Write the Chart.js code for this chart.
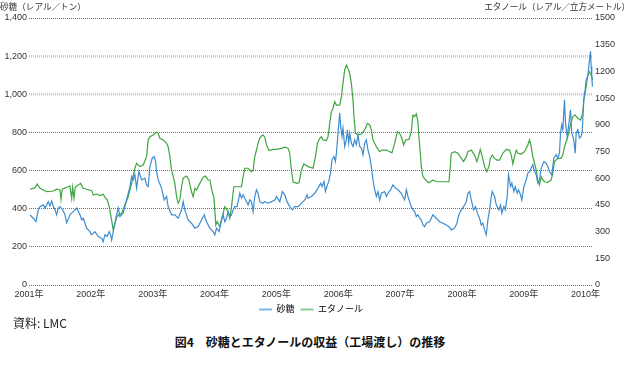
<!DOCTYPE html>
<html>
<head>
<meta charset="utf-8">
<script src="https://cdn.jsdelivr.net/npm/chart.js@4"></script>
<style>
  body { margin: 0; background: #fff; }
  #wrap { position: relative; width: 633px; height: 370px; background: #fff; font-family: "Noto Sans CJK JP", sans-serif; }
  #chart { position: absolute; left: 0; top: 0; }
  .txt { position: absolute; white-space: nowrap; color: #333; }
  #titleL { left: 0; top: 0; font-size: 8.6px; }
  #titleR { right: 3px; top: 0; font-size: 8.6px; }
  #source { left: 13px; top: 314px; font-size: 12px; color: #222; }
  #caption { left: 0; width: 620px; top: 333px; font-size: 12px; font-weight: bold; text-align: center; color: #111; }
</style>
</head>
<body>
<div id="wrap">
  <canvas id="chart" width="633" height="324"></canvas>
  <div class="txt" id="titleL">砂糖（レアル／トン）</div>
  <div class="txt" id="titleR">エタノール（レアル／立方メートル）</div>
  <div class="txt" id="source">資料: LMC</div>
  <div class="txt" id="caption">図4　砂糖とエタノールの収益（工場渡し）の推移</div>
</div>
<script>
// 砂糖 (レアル/トン), 左軸
const sugarYears = [
  2001.016, 2001.069, 2001.113, 2001.150, 2001.178, 2001.231, 2001.258, 2001.312, 2001.339, 2001.367,
  2001.393, 2001.420, 2001.447, 2001.473, 2001.501, 2001.544, 2001.582, 2001.609, 2001.662, 2001.716,
  2001.771, 2001.824, 2001.851, 2001.877, 2001.905, 2001.932, 2001.985, 2002.013, 2002.066, 2002.120,
  2002.174, 2002.200, 2002.228, 2002.265, 2002.297, 2002.320, 2002.336, 2002.362, 2002.389, 2002.417,
  2002.443, 2002.470, 2002.523, 2002.578, 2002.632, 2002.659, 2002.685, 2002.712, 2002.740, 2002.777,
  2002.821, 2002.874, 2002.901, 2002.927, 2002.955, 2002.992, 2003.024, 2003.047, 2003.063, 2003.089,
  2003.144, 2003.186, 2003.225, 2003.250, 2003.305, 2003.359, 2003.412, 2003.467, 2003.493, 2003.520,
  2003.573, 2003.628, 2003.682, 2003.735, 2003.790, 2003.832, 2003.871, 2003.924, 2003.977, 2004.005,
  2004.032, 2004.074, 2004.113, 2004.139, 2004.166, 2004.194, 2004.220, 2004.247, 2004.275, 2004.300,
  2004.328, 2004.365, 2004.409, 2004.436, 2004.462, 2004.489, 2004.517, 2004.543, 2004.570, 2004.598,
  2004.624, 2004.651, 2004.678, 2004.704, 2004.732, 2004.775, 2004.813, 2004.866, 2004.921, 2004.974,
  2005.002, 2005.055, 2005.098, 2005.136, 2005.173, 2005.216, 2005.260, 2005.297, 2005.351, 2005.406,
  2005.459, 2005.496, 2005.512, 2005.567, 2005.620, 2005.674, 2005.717, 2005.738, 2005.771, 2005.793,
  2005.826, 2005.847, 2005.879, 2005.900, 2005.932, 2005.955, 2005.971, 2005.997, 2006.024, 2006.040,
  2006.061, 2006.077, 2006.105, 2006.132, 2006.148, 2006.170, 2006.186, 2006.213, 2006.239, 2006.267,
  2006.294, 2006.320, 2006.347, 2006.375, 2006.401, 2006.428, 2006.455, 2006.481, 2006.509, 2006.536,
  2006.562, 2006.590, 2006.617, 2006.643, 2006.670, 2006.698, 2006.751, 2006.779, 2006.804, 2006.848,
  2006.885, 2006.924, 2006.966, 2007.021, 2007.074, 2007.102, 2007.128, 2007.155, 2007.182, 2007.208,
  2007.236, 2007.263, 2007.289, 2007.317, 2007.344, 2007.370, 2007.397, 2007.425, 2007.478, 2007.531,
  2007.586, 2007.640, 2007.693, 2007.748, 2007.790, 2007.829, 2007.882, 2007.919, 2007.951, 2007.990,
  2008.044, 2008.071, 2008.097, 2008.124, 2008.152, 2008.189, 2008.221, 2008.259, 2008.286, 2008.313,
  2008.339, 2008.367, 2008.394, 2008.420, 2008.447, 2008.475, 2008.491, 2008.528, 2008.556, 2008.598,
  2008.625, 2008.646, 2008.679, 2008.701, 2008.733, 2008.754, 2008.787, 2008.808, 2008.840, 2008.862,
  2008.895, 2008.916, 2008.948, 2008.969, 2009.002, 2009.040, 2009.066, 2009.094, 2009.121, 2009.147,
  2009.174, 2009.202, 2009.228, 2009.255, 2009.283, 2009.325, 2009.364, 2009.389, 2009.417, 2009.454,
  2009.486, 2009.525, 2009.551, 2009.578, 2009.594, 2009.615, 2009.632, 2009.659, 2009.675, 2009.702,
  2009.724, 2009.756, 2009.777, 2009.809, 2009.832, 2009.848, 2009.874, 2009.901, 2009.929, 2009.945,
  2009.971, 2009.993, 2010.010, 2010.036, 2010.063, 2010.079, 2010.090, 2010.100, 2010.111
];
const sugarPrices = [
  368, 350, 332, 394, 411, 420, 403, 437, 415, 441,
  411, 394, 368, 403, 411, 394, 368, 327, 368, 385,
  403, 368, 341, 350, 324, 298, 280, 263, 280, 254,
  245, 227, 263, 254, 280, 263, 236, 280, 324, 368,
  403, 359, 376, 446, 516, 569, 551, 578, 508, 595,
  551, 560, 525, 516, 621, 665, 674, 647, 595, 551,
  508, 446, 464, 411, 368, 368, 350, 394, 437, 394,
  341, 324, 298, 306, 341, 368, 332, 298, 280, 263,
  298, 280, 341, 368, 332, 350, 385, 359, 368, 394,
  411, 411, 481, 455, 473, 455, 437, 420, 446, 437,
  385, 464, 499, 481, 437, 429, 437, 429, 437, 446,
  464, 437, 490, 473, 437, 411, 394, 411, 411, 429,
  446, 473, 455, 464, 481, 508, 534, 516, 542, 490,
  525, 542, 595, 656, 674, 647, 691, 796, 901, 831,
  779, 823, 726, 761, 814, 744, 796, 744, 726, 761,
  735, 788, 726, 718, 683, 744, 761, 709, 674, 621,
  551, 499, 464, 490, 446, 481, 490, 464, 481, 499,
  525, 508, 499, 481, 446, 499, 464, 437, 411, 394,
  385, 359, 368, 350, 341, 315, 306, 324, 332, 368,
  350, 332, 324, 315, 306, 289, 298, 324, 368, 394,
  420, 437, 481, 490, 446, 394, 411, 368, 350, 315,
  324, 289, 263, 341, 394, 464, 490, 464, 420, 394,
  420, 376, 411, 394, 464, 578, 516, 534, 490, 516,
  481, 499, 473, 446, 516, 551, 586, 595, 613, 630,
  595, 578, 534, 551, 613, 647, 639, 621, 595, 578,
  665, 683, 665, 691, 796, 840, 814, 971, 849, 779,
  831, 919, 796, 761, 691, 796, 814, 770, 779, 805,
  971, 1024, 1076, 1094, 1181, 1225, 1146, 1094, 1040
];

// エタノール (レアル/立方メートル), 右軸
const ethanolYears = [
  2001.016, 2001.097, 2001.134, 2001.178, 2001.286, 2001.393, 2001.447, 2001.501, 2001.517, 2001.538,
  2001.609, 2001.662, 2001.690, 2001.706, 2001.727, 2001.748, 2001.796, 2001.835, 2001.877, 2001.932,
  2002.013, 2002.039, 2002.094, 2002.147, 2002.200, 2002.228, 2002.265, 2002.297, 2002.336, 2002.362,
  2002.389, 2002.417, 2002.443, 2002.498, 2002.551, 2002.604, 2002.659, 2002.712, 2002.740, 2002.793,
  2002.847, 2002.901, 2002.927, 2002.955, 2003.008, 2003.036, 2003.063, 2003.089, 2003.116, 2003.170,
  2003.225, 2003.250, 2003.278, 2003.305, 2003.359, 2003.386, 2003.412, 2003.439, 2003.467, 2003.493,
  2003.548, 2003.585, 2003.628, 2003.654, 2003.682, 2003.709, 2003.762, 2003.816, 2003.855, 2003.897,
  2003.924, 2003.968, 2003.989, 2004.021, 2004.042, 2004.086, 2004.139, 2004.166, 2004.220, 2004.247,
  2004.275, 2004.312, 2004.355, 2004.436, 2004.462, 2004.489, 2004.543, 2004.598, 2004.624, 2004.651,
  2004.678, 2004.704, 2004.732, 2004.759, 2004.785, 2004.813, 2004.840, 2004.882, 2004.947, 2005.002,
  2005.082, 2005.136, 2005.189, 2005.216, 2005.244, 2005.270, 2005.325, 2005.367, 2005.406, 2005.443,
  2005.512, 2005.593, 2005.632, 2005.664, 2005.701, 2005.729, 2005.754, 2005.809, 2005.835, 2005.863,
  2005.890, 2005.916, 2005.943, 2005.971, 2006.024, 2006.052, 2006.077, 2006.105, 2006.132, 2006.158,
  2006.186, 2006.213, 2006.239, 2006.255, 2006.278, 2006.320, 2006.375, 2006.428, 2006.472, 2006.509,
  2006.536, 2006.562, 2006.617, 2006.670, 2006.708, 2006.779, 2006.832, 2006.869, 2006.913, 2006.956,
  2006.993, 2007.031, 2007.058, 2007.090, 2007.144, 2007.182, 2007.208, 2007.236, 2007.263, 2007.289,
  2007.305, 2007.328, 2007.344, 2007.370, 2007.425, 2007.467, 2007.531, 2007.586, 2007.667, 2007.748,
  2007.790, 2007.812, 2007.829, 2007.882, 2007.935, 2007.990, 2008.027, 2008.071, 2008.097, 2008.152,
  2008.205, 2008.242, 2008.275, 2008.297, 2008.330, 2008.367, 2008.404, 2008.436, 2008.459, 2008.491,
  2008.528, 2008.566, 2008.609, 2008.662, 2008.717, 2008.771, 2008.798, 2008.824, 2008.851, 2008.879,
  2008.905, 2008.960, 2009.013, 2009.066, 2009.094, 2009.121, 2009.147, 2009.174, 2009.202, 2009.228,
  2009.255, 2009.283, 2009.309, 2009.336, 2009.389, 2009.444, 2009.470, 2009.497, 2009.551, 2009.606,
  2009.632, 2009.659, 2009.712, 2009.756, 2009.793, 2009.832, 2009.874, 2009.918, 2009.955, 2009.971,
  2010.010, 2010.036, 2010.063, 2010.090, 2010.116
];
const ethanolPrices = [
  538, 547, 567, 543, 524, 528, 538, 534, 481, 538,
  549, 556, 487, 549, 487, 549, 562, 571, 543, 538,
  530, 506, 511, 502, 510, 493, 478, 440, 365, 309,
  347, 380, 393, 403, 449, 496, 571, 656, 684, 665,
  674, 721, 815, 833, 843, 852, 858, 852, 824, 815,
  796, 777, 721, 646, 571, 496, 459, 478, 552, 600,
  612, 590, 524, 496, 543, 534, 571, 605, 612, 590,
  590, 515, 496, 337, 356, 328, 403, 440, 412, 375,
  440, 552, 552, 552, 608, 656, 656, 637, 646, 721,
  758, 796, 824, 837, 843, 830, 787, 755, 762, 762,
  768, 774, 768, 740, 646, 580, 571, 575, 646, 680,
  665, 656, 721, 796, 824, 833, 815, 811, 833, 908,
  974, 993, 1030, 1011, 1011, 1058, 1133, 1208, 1236, 1217,
  1189, 1133, 1039, 946, 852, 843, 848, 871, 908, 899,
  871, 815, 777, 749, 758, 758, 749, 743, 796, 861,
  852, 824, 787, 815, 818, 861, 955, 946, 961, 918,
  833, 740, 665, 608, 586, 575, 590, 580, 580, 580,
  580, 665, 740, 749, 740, 711, 693, 721, 749, 758,
  730, 693, 730, 762, 721, 665, 637, 665, 711, 730,
  711, 702, 702, 740, 762, 758, 730, 680, 721, 758,
  740, 736, 749, 787, 815, 777, 721, 684, 646, 590,
  562, 608, 590, 580, 577, 590, 627, 693, 711, 711,
  730, 777, 833, 899, 946, 955, 936, 927, 965, 1039,
  1114, 1180, 1198, 1180, 1152
];

const yearTicks = [2001, 2002, 2003, 2004, 2005, 2006, 2007, 2008, 2009, 2010];
const seriesNames = ["砂糖", "エタノール"];

const tickFont = { family: "'Liberation Sans', 'Noto Sans CJK JP', sans-serif", size: 9 };
const legendColors = ["#7fb7e2", "#86cf8e"];

const sugarData = sugarYears.map((x, i) => ({ x: x, y: sugarPrices[i] }));
const ethanolData = ethanolYears.map((x, i) => ({ x: x, y: ethanolPrices[i] }));

new Chart(document.getElementById("chart"), {
  type: "line",
  data: {
    datasets: [
      {
        label: seriesNames[0],
        data: sugarData,
        yAxisID: "y",
        borderColor: "#3d8cd0",
        borderWidth: 1.2,
        pointRadius: 0,
        tension: 0,
      },
      {
        label: seriesNames[1],
        data: ethanolData,
        yAxisID: "y1",
        borderColor: "#3fa53f",
        borderWidth: 1.2,
        pointRadius: 0,
        tension: 0,
      },
    ],
  },
  options: {
    responsive: false,
    animation: false,
    layout: { padding: { top: 18, right: 0, left: 0, bottom: 0 } },
    plugins: {
      tooltip: { enabled: false },
      legend: {
        position: "bottom",
        fullSize: false,
        labels: {
          font: tickFont,
          color: "#333",
          boxWidth: 13,
          boxHeight: 2,
          padding: 6,
          generateLabels: (chart) =>
            chart.data.datasets.map((ds, i) => ({
              text: ds.label,
              fillStyle: legendColors[i],
              strokeStyle: legendColors[i],
              lineWidth: 0,
              datasetIndex: i,
            })),
        },
      },
    },
    scales: {
      x: {
        type: "linear",
        min: 2001,
        max: 2010.12,
        afterFit: (s) => { s.height = 14; },
        afterBuildTicks: (s) => { s.ticks = yearTicks.map((v) => ({ value: v })); },
        grid: { display: false, drawTicks: false },
        border: { display: false },
        ticks: {
          font: tickFont,
          color: "#333",
          padding: 4,
          maxRotation: 0,
          autoSkip: false,
          callback: (v) => v + "年",
        },
      },
      y: {
        position: "left",
        min: 0,
        max: 1400,
        afterFit: (s) => { s.width = 29; },
        border: { display: false, dash: [1, 1] },
        grid: {
          drawTicks: false,
          color: (c) => (c.tick && (c.tick.value === 1000 || c.tick.value === 1200) ? "#c8c8c8" : "#707070"),
          lineWidth: (c) => (c.tick && (c.tick.value === 1000 || c.tick.value === 1200) ? 2.5 : 1),
        },
        ticks: {
          stepSize: 200,
          font: tickFont,
          color: "#333",
          padding: 2,
          callback: (v) => v.toLocaleString("en-US"),
        },
      },
      y1: {
        position: "right",
        min: 0,
        max: 1500,
        afterFit: (s) => { s.width = 40; },
        border: { display: false },
        grid: { display: false, drawTicks: false },
        ticks: {
          stepSize: 150,
          font: tickFont,
          color: "#333",
          padding: 2,
          callback: (v) => String(v),
        },
      },
    },
  },
});
</script>
</body>
</html>
